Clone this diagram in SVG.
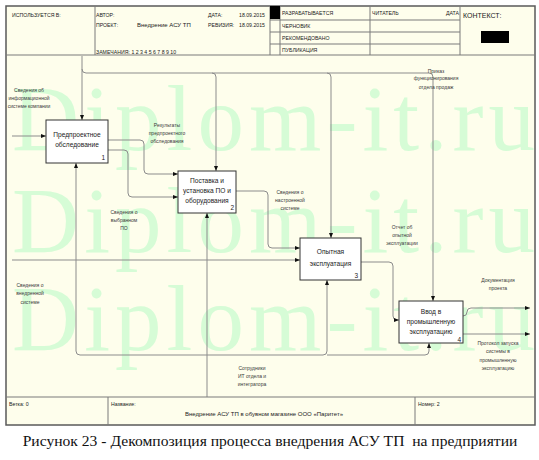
<svg xmlns="http://www.w3.org/2000/svg" width="539" height="460" viewBox="0 0 539 460">
<style>
.frame{fill:#fefeec;stroke:#5a5a5a;stroke-width:1.5}
.ln{stroke:#7a7a7a;stroke-width:1;fill:none}
.hd{font-family:"Liberation Sans",Arial,sans-serif;font-size:5.2px;fill:#222}
.hd6{font-family:"Liberation Sans",Arial,sans-serif;font-size:6px;fill:#222}
.wm{font-family:"Liberation Serif","Times New Roman",serif;font-size:93px;fill:#d6fcd6}
.c{stroke:#8c8c8c;stroke-width:1;fill:none}
.box{fill:#ffffff;stroke:#333;stroke-width:1}
.bt{font-family:"Liberation Sans",Arial,sans-serif;font-size:6.6px;fill:#222;text-anchor:middle}
.bn{font-family:"Liberation Sans",Arial,sans-serif;font-size:6.5px;fill:#222;text-anchor:end}
.lb{font-family:"Liberation Sans",Arial,sans-serif;font-size:5px;fill:#3a3a3a;text-anchor:middle}
.cap{font-family:"Liberation Serif","Times New Roman",serif;font-size:15.6px;fill:#111;text-anchor:middle}
</style>
<defs>
<marker id="ah" viewBox="0 0 6 6" refX="6" refY="3" markerWidth="5" markerHeight="5" orient="auto" markerUnits="userSpaceOnUse"><path d="M0,0.6 L6,3 L0,5.4z" fill="#111"/></marker>
</defs>
<rect width="539" height="460" fill="#ffffff"/>
<rect class="frame" x="6" y="6" width="529" height="419"/>
<g id="header">
<line class="ln" x1="6" y1="55" x2="535" y2="55"/>
<line class="ln" x1="95" y1="6" x2="95" y2="55"/>
<line class="ln" x1="270" y1="6" x2="270" y2="55"/>
<line class="ln" x1="280" y1="6" x2="280" y2="55"/>
<line class="ln" x1="370" y1="6" x2="370" y2="55"/>
<line class="ln" x1="460" y1="6" x2="460" y2="55"/>
<line class="ln" x1="270" y1="20" x2="460" y2="20"/>
<line class="ln" x1="270" y1="32" x2="460" y2="32"/>
<line class="ln" x1="270" y1="44" x2="460" y2="44"/>
<rect x="270" y="6" width="10" height="13" fill="#000"/>
<rect x="481" y="31" width="28" height="12" fill="#000"/>
<text class="hd" x="12" y="17">ИСПОЛЬЗУЕТСЯ В:</text>
<text class="hd" x="96" y="17">АВТОР:</text>
<text class="hd" x="96" y="27">ПРОЕКТ:</text>
<text class="hd6" x="137" y="27">Внедрение АСУ ТП</text>
<text class="hd" x="208" y="17">ДАТА:</text>
<text class="hd" x="239" y="17">18.09.2015</text>
<text class="hd" x="208" y="27">РЕВИЗИЯ:</text>
<text class="hd" x="239" y="27">18.09.2015</text>
<text class="hd" x="96" y="53.5">ЗАМЕЧАНИЯ: 1 2 3 4 5 6 7 8 9 10</text>
<text class="hd" x="282" y="15">РАЗРАБАТЫВАЕТСЯ</text>
<text class="hd" x="372" y="15">ЧИТАТЕЛЬ</text>
<text class="hd" x="459" y="15" text-anchor="end">ДАТА</text>
<text class="hd" x="282" y="27.5">ЧЕРНОВИК</text>
<text class="hd" x="282" y="39.5">РЕКОМЕНДОВАНО</text>
<text class="hd" x="282" y="51.5">ПУБЛИКАЦИЯ</text>
<text class="hd" x="463" y="17.5" style="font-size:7px">КОНТЕКСТ:</text>
</g>
<g id="watermark">
<text class="wm" x="12" y="150" textLength="523" lengthAdjust="spacing">Diplom-it.ru</text>
<text class="wm" x="12" y="252" textLength="523" lengthAdjust="spacing">Diplom-it.ru</text>
<text class="wm" x="12" y="350" textLength="523" lengthAdjust="spacing">Diplom-it.ru</text>
</g>
<g id="connectors">
<path class="c" d="M82,56 V120" marker-end="url(#ah)"/>
<path class="c" d="M82,69 q0,4 4,4 H429 q4,0 4,4 V301" marker-end="url(#ah)"/>
<path class="c" d="M212,73 q4,0 4,4 V171" marker-end="url(#ah)"/>
<path class="c" d="M327,73 q4,0 4,4 V238" marker-end="url(#ah)"/>
<path class="c" d="M12,136 H46" marker-end="url(#ah)"/>
<path class="c" d="M12,260 H300" marker-end="url(#ah)"/>
<path class="c" d="M108,140 H140 q4,0 4,4 V170 q0,4 4,4 H178" marker-end="url(#ah)"/>
<path class="c" d="M108,150 H124 q4,0 4,4 V193 q0,4 4,4 H178" marker-end="url(#ah)"/>
<path class="c" d="M236,191 H264 q4,0 4,4 V244 q0,4 4,4 H300" marker-end="url(#ah)"/>
<path class="c" d="M361,262 H389 q4,0 4,4 V316 q0,4 4,4 H399" marker-end="url(#ah)"/>
<path class="c" d="M463,316 q4,0 4,-4 q0,-4 4,-4 H530" marker-end="url(#ah)"/>
<path class="c" d="M463,334 H530" marker-end="url(#ah)"/>
<path class="c" d="M207,397 V213" marker-end="url(#ah)"/>
<path class="c" d="M207,355 H80 q-4,0 -4,-4 V163" marker-end="url(#ah)"/>
<path class="c" d="M207,355 H323 q4,0 4,-4 V280" marker-end="url(#ah)"/>
<path class="c" d="M327,355 H425 q4,0 4,-4 V343" marker-end="url(#ah)"/>
</g>
<g id="labels">
<text class="lb" x="29" y="92">Сведения об</text>
<text class="lb" x="29" y="100">информационной</text>
<text class="lb" x="29" y="108">системе компании</text>
<text class="lb" x="167" y="127">Результаты</text>
<text class="lb" x="167" y="135">предпроектного</text>
<text class="lb" x="167" y="143">обследования</text>
<text class="lb" x="436" y="72.5">Приказ</text>
<text class="lb" x="436" y="80">функционирования</text>
<text class="lb" x="436" y="88.5">отдела продаж</text>
<text class="lb" x="124" y="214">Сведения о</text>
<text class="lb" x="124" y="222">выбранном</text>
<text class="lb" x="124" y="230">ПО</text>
<text class="lb" x="290" y="194">Сведения о</text>
<text class="lb" x="290" y="202">настроенной</text>
<text class="lb" x="290" y="210">системе</text>
<text class="lb" x="402" y="229">Отчет об</text>
<text class="lb" x="402" y="237">опытной</text>
<text class="lb" x="402" y="245">эксплуатации</text>
<text class="lb" x="30" y="287">Сведения о</text>
<text class="lb" x="30" y="295">внедренной</text>
<text class="lb" x="30" y="304">системе</text>
<text class="lb" x="498" y="282">Документация</text>
<text class="lb" x="498" y="290">проекта</text>
<text class="lb" x="498" y="345">Протокол запуска</text>
<text class="lb" x="498" y="353">системы в</text>
<text class="lb" x="498" y="362">промышленную</text>
<text class="lb" x="498" y="370">эксплуатацию</text>
<text class="lb" x="252" y="370">Сотрудники</text>
<text class="lb" x="252" y="378">ИТ отдела и</text>
<text class="lb" x="252" y="386">интегратора</text>
</g>
<g id="node1">
<rect class="box" x="46" y="120" width="62" height="43"/>
<text class="bt" x="77" y="136.5">Предпроектное</text>
<text class="bt" x="77" y="146.5">обследование</text>
<text class="bn" x="105" y="159.5">1</text>
</g>
<g id="node2">
<rect class="box" x="178" y="171" width="58" height="42"/>
<text class="bt" x="207" y="182.5">Поставка и</text>
<text class="bt" x="207" y="192.5">установка ПО и</text>
<text class="bt" x="207" y="202.5">оборудования</text>
<text class="bn" x="234" y="210">2</text>
</g>
<g id="node3">
<rect class="box" x="300" y="238" width="61" height="42"/>
<text class="bt" x="330.5" y="254">Опытная</text>
<text class="bt" x="330.5" y="265.5">эксплуатация</text>
<text class="bn" x="358" y="277.5">3</text>
</g>
<g id="node4">
<rect class="box" x="399" y="301" width="64" height="42"/>
<text class="bt" x="431" y="313.5">Ввод в</text>
<text class="bt" x="431" y="323.5">промышленную</text>
<text class="bt" x="431" y="334">эксплуатацию</text>
<text class="bn" x="461" y="341.5">4</text>
</g>
<g id="footer">
<line class="ln" x1="6" y1="397" x2="535" y2="397"/>
<line class="ln" x1="108" y1="397" x2="108" y2="425"/>
<line class="ln" x1="415" y1="397" x2="415" y2="425"/>
<text class="hd" x="9" y="406">Ветка: 0</text>
<text class="hd" x="111" y="406">Название:</text>
<text class="hd6" x="264" y="416" text-anchor="middle">Внедрение АСУ ТП в обувном магазине ООО «Паритет»</text>
<text class="hd" x="418" y="406">Номер: 2</text>
</g>
<text class="cap" x="270" y="446" xml:space="preserve">Рисунок 23 - Декомпозиция процесса внедрения АСУ ТП  на предприятии</text>
</svg>
